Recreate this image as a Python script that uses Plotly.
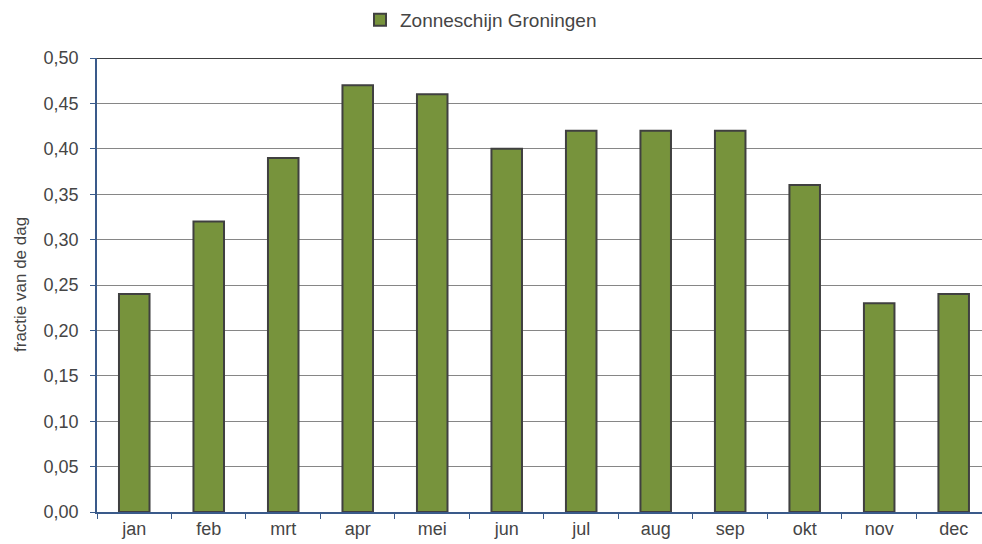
import plotly.graph_objects as go

months = ["jan", "feb", "mrt", "apr", "mei", "jun", "jul", "aug", "sep", "okt", "nov", "dec"]
values = [0.24, 0.32, 0.39, 0.47, 0.46, 0.40, 0.42, 0.42, 0.42, 0.36, 0.23, 0.24]
series_name = "Zonneschijn Groningen"
y_title = "fractie van de dag"

W, H = 982, 544
L, T, B = 97, 58, 32
fig = go.Figure()
fig.add_trace(go.Bar(
    x=months, y=values, name=series_name,
    marker=dict(color="#77933C", line=dict(color="#404040", width=2)),
    width=0.41,
    showlegend=True,
))

fam = "Liberation Sans, Arial, sans-serif"
txt = "#454545"
fig.update_layout(
    width=W, height=H,
    margin=dict(l=L, r=0, t=T, b=B),
    paper_bgcolor="white", plot_bgcolor="white",
    separators=",.",
    font=dict(family=fam, size=17, color=txt),
    showlegend=True,
    legend=dict(orientation="h", x=0.5 - 10 / W, xanchor="center", xref="container",
                y=1 - 20 / H, yref="container", yanchor="middle",
                font=dict(family=fam, size=19, color=txt),
                itemwidth=30, bgcolor="rgba(0,0,0,0)"),
    xaxis=dict(
        type="category", range=[-0.5, 11.38], automargin=False,
        showline=True, linecolor="#3A5A8A", linewidth=1.5,
        ticks="outside", tickson="boundaries", ticklen=5, tickcolor="#3A5A8A",
        showgrid=False, tickfont=dict(size=18, color=txt),
    ),
    yaxis=dict(
        range=[0, 0.5], dtick=0.05, tickformat=".2f", automargin=False,
        showline=True, linecolor="#3A5A8A", linewidth=1.5,
        ticks="outside", ticklen=5, tickcolor="#3A5A8A",
        ticklabelstandoff=8,
        showgrid=True, gridcolor="#868686", gridwidth=1,
        zeroline=False,
        tickfont=dict(size=18, color=txt),
    ),
)
fig.add_annotation(text=y_title, xref="paper", yref="paper",
                   x=-77 / (W - L), y=(H - B - 285) / (H - T - B), xanchor="center", yanchor="middle",
                   textangle=-90, showarrow=False,
                   font=dict(family=fam, size=17, color=txt))
fig.add_shape(type="line", xref="paper", yref="y", x0=0, x1=1, y0=0.5, y1=0.5,
              line=dict(color="#404040", width=2))
fig.write_html("out.html", config={"displayModeBar": False},
               post_script="document.body.style.margin='0';document.body.style.overflow='hidden';")
